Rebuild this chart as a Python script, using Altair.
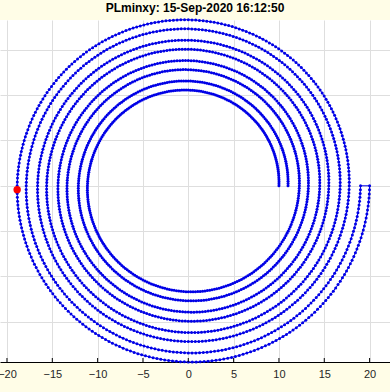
import numpy as np
import pandas as pd
import altair as alt

# Spiral parameters
r_out_start = 10.0     # outward arm starts at (10, 0), counter-clockwise
r_out_end = 19.0       # ... and reaches (19, 0) after 4 turns
r_in_start = 20.0      # inward arm starts at (20, 0), clockwise
r_in_end = 11.0        # ... and ends at (11, 0) after 4 turns
turns = 4
pts_per_turn = 280

x_ticks = [-20, -15, -10, -5, 0, 5, 10, 15, 20]
y_grid = [-15, -10, -5, 0, 5, 10, 15]
title_text = "PLminxy: 15-Sep-2020 16:12:50"

n = turns * pts_per_turn + 1
th = np.linspace(0, 2 * np.pi * turns, n)
r1 = np.linspace(r_out_start, r_out_end, n)
r2 = np.linspace(r_in_start, r_in_end, n)
x = np.concatenate([r1 * np.cos(th), r2 * np.cos(-th)])
y = np.concatenate([r1 * np.sin(th), r2 * np.sin(-th)])
df = pd.DataFrame({"x": x, "y": y, "i": np.arange(len(x))})

k = int(np.argmin(x))
dmin = pd.DataFrame({"x": [x[k]], "y": [y[k]]})
dticks = pd.DataFrame({"t": x_ticks})

W, H = 390, 342
xs = alt.Scale(domain=[-20.77, 22.25], nice=False, zero=False)
ys = alt.Scale(domain=[-19.44, 18.29], nice=False, zero=False)

X = alt.X("x:Q", scale=xs, axis=alt.Axis(
    values=x_ticks, grid=True, gridColor="#DEDEDE", gridWidth=1,
    domain=True, domainColor="#000000", domainWidth=1.2,
    ticks=False, labelPadding=6, labelFontSize=11, labelColor="#262626",
    labelFont="Liberation Sans", labelFlush=False, labelOverlap=False,
    labelBound=False, title=None))
Y = alt.Y("y:Q", scale=ys, axis=alt.Axis(
    values=y_grid, grid=True, gridColor="#DEDEDE", gridWidth=1,
    labels=False, ticks=False, domain=False, title=None))

blue = "#0000E6"
line = alt.Chart(df).mark_line(color=blue, strokeWidth=1).encode(x=X, y=Y, order="i:Q")
pts = alt.Chart(df).mark_circle(color=blue, size=9, opacity=1).encode(
    x=alt.X("x:Q", scale=xs), y=alt.Y("y:Q", scale=ys))
redpt = alt.Chart(dmin).mark_circle(color="#FF0000", size=55, opacity=1).encode(
    x=alt.X("x:Q", scale=xs), y=alt.Y("y:Q", scale=ys))
tk = alt.Chart(dticks).mark_rule(color="#000000", strokeWidth=1).encode(
    x=alt.X("t:Q", scale=xs), y=alt.value(H), y2=alt.value(H - 4))

chart = alt.layer(line, pts, redpt, tk).properties(
    width=W, height=H,
    title=alt.TitleParams(title_text, fontSize=12, fontWeight="bold",
                          font="Liberation Sans", color="#000000",
                          anchor="middle", offset=3),
    autosize=alt.AutoSizeParams(type="none"),
    padding={"left": 0, "right": 0, "top": 20, "bottom": 30},
    background="#FFFDE7",
).configure_view(fill="#FFFFFF", strokeWidth=0)

chart.save("out.html", embed_options={"renderer": "svg", "actions": False})
